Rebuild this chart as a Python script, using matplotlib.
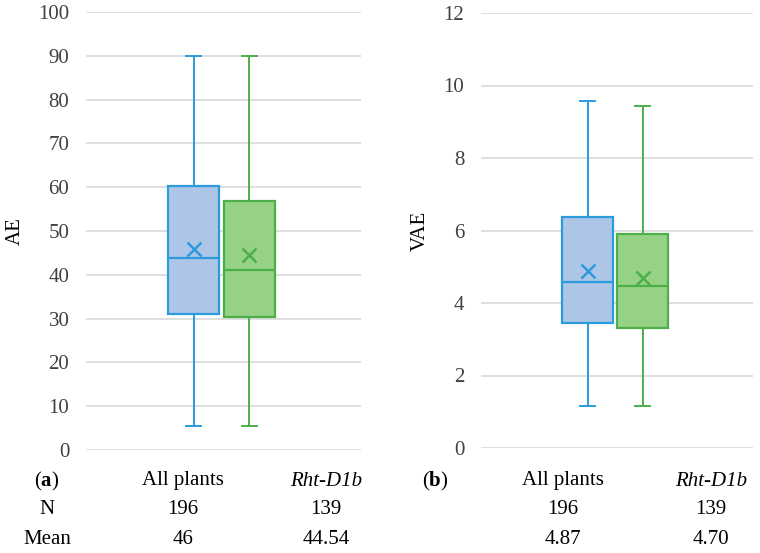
"""Box plots of AE and VAE for all plants vs Rht-D1b."""

import matplotlib.pyplot as plt

groups = ["All plants", "Rht-D1b"]
n_counts = [196, 139]

# AE: whisker low, Q1, median, Q3, whisker high, mean
ae_low = [5.5, 5.5]
ae_q1 = [31.0, 30.4]
ae_med = [43.8, 41.1]
ae_q3 = [60.3, 56.8]
ae_high = [90, 90]
ae_mean = [46, 44.54]
ae_mean_txt = ["46", "44.54"]

# VAE
vae_low = [1.17, 1.17]
vae_q1 = [3.46, 3.30]
vae_med = [4.57, 4.48]
vae_q3 = [6.36, 5.90]
vae_high = [9.58, 9.43]
vae_mean = [4.87, 4.70]
vae_mean_txt = ["4.87", "4.70"]

edge_colors = ["#2B9BDC", "#4CAF4A"]
fill_colors = ["#ADC6E8", "#96D286"]

plt.rcParams["font.family"] = ["Liberation Serif", "DejaVu Serif"]
plt.rcParams["mathtext.fontset"] = "custom"
plt.rcParams["mathtext.bf"] = "Liberation Serif:bold"
plt.rcParams["mathtext.rm"] = "Liberation Serif"

W, H = 760, 553
fig = plt.figure(figsize=(W / 100, H / 100), dpi=100)


def make_stats(low, q1, med, q3, high, mean):
    return [
        dict(whislo=low[i], q1=q1[i], med=med[i], q3=q3[i], whishi=high[i],
             mean=mean[i], fliers=[])
        for i in range(len(low))
    ]


def draw_panel(ax, stats, ymax, ystep, ylabel):
    positions = [0.392, 0.594]
    for i, st in enumerate(stats):
        ec = edge_colors[i]
        ax.bxp([st], positions=[positions[i]], widths=0.185, patch_artist=True,
               showmeans=True, showfliers=False,
               boxprops=dict(facecolor=fill_colors[i], edgecolor=ec, linewidth=1.6),
               medianprops=dict(color=ec, linewidth=1.6),
               whiskerprops=dict(color=ec, linewidth=1.4),
               capprops=dict(color=ec, linewidth=1.4),
               capwidths=0.055,
               meanprops=dict(marker="x", markeredgecolor=ec, markersize=10,
                              markeredgewidth=1.8))
    ax.set_xlim(0, 1)
    ax.set_ylim(0, ymax)
    ticks = [t * ystep for t in range(int(round(ymax / ystep)) + 1)]
    ax.set_yticks(ticks)
    ax.set_yticklabels([f"{t:g}" for t in ticks], fontsize=15, color="#404040")
    ax.set_xticks([])
    ax.yaxis.grid(True, color="#D9D9D9", linewidth=1.2)
    ax.set_axisbelow(True)
    for s in ax.spines.values():
        s.set_visible(False)
    ax.tick_params(axis="y", length=0, pad=12)
    ax.set_ylabel(ylabel, fontsize=15, labelpad=10)


ax1 = fig.add_axes([86 / W, 1 - 450 / H, 275 / W, 438 / H])
draw_panel(ax1, make_stats(ae_low, ae_q1, ae_med, ae_q3, ae_high, ae_mean), 100, 10, "AE")

ax2 = fig.add_axes([481 / W, 1 - 448 / H, 272 / W, 435 / H])
draw_panel(ax2, make_stats(vae_low, vae_q1, vae_med, vae_q3, vae_high, vae_mean), 12, 2, "VAE")

# table under the panels
rows_y = [1 - 481 / H, 1 - 509 / H, 1 - 539 / H]
fs = 15
fig.text(47 / W, rows_y[0], r"($\mathbf{a}$)", ha="center", va="center", fontsize=fs)
fig.text(47 / W, rows_y[1], "N", ha="center", va="center", fontsize=fs)
fig.text(47 / W, rows_y[2], "Mean", ha="center", va="center", fontsize=fs)
fig.text(435 / W, rows_y[0], r"($\mathbf{b}$)", ha="center", va="center", fontsize=fs)

for xs, means_txt in (([183, 326], ae_mean_txt), ([563, 711], vae_mean_txt)):
    for i, g in enumerate(groups):
        style = "italic" if i == 1 else "normal"
        fig.text(xs[i] / W, rows_y[0], g, ha="center", va="center",
                 fontsize=fs, style=style)
        fig.text(xs[i] / W, rows_y[1], str(n_counts[i]), ha="center",
                 va="center", fontsize=fs)
        fig.text(xs[i] / W, rows_y[2], means_txt[i], ha="center",
                 va="center", fontsize=fs)

fig.savefig("out.png", dpi=100)
